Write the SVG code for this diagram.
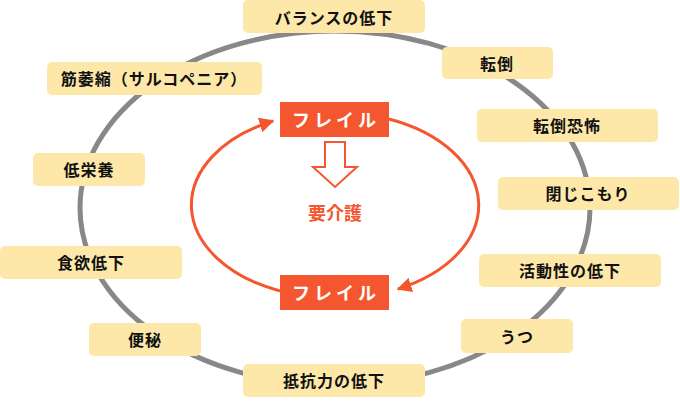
<svg xmlns="http://www.w3.org/2000/svg" width="680" height="402" viewBox="0 0 680 402">
<defs>
<style>
.box{fill:#FDE8AA;}
.lbl{font-family:"Noto Sans CJK JP","Noto Sans",sans-serif;font-weight:bold;font-size:16px;letter-spacing:1px;fill:#111;text-anchor:middle;dominant-baseline:central;}
.fr{fill:#F4572F;}
.frt{font-family:"Noto Sans CJK JP","Noto Sans",sans-serif;font-weight:bold;font-size:18px;letter-spacing:4px;fill:#fff;text-anchor:middle;dominant-baseline:central;}
.arc{fill:none;stroke:#F4572F;stroke-width:3;}
</style>
<marker id="ah" viewBox="0 0 10 10" refX="9" refY="5" markerWidth="5" markerHeight="5" markerUnits="strokeWidth" orient="auto">
<path d="M0,0 L10,5 L0,10 z" fill="#F4572F"/>
</marker>
</defs>
<rect width="680" height="402" fill="#fff"/>
<g id="connectors">
<ellipse cx="335" cy="208" rx="255" ry="177" fill="none" stroke="#888" stroke-width="5"/>
<path class="arc" d="M389,119 A143 93 0 0 1 398,289" marker-end="url(#ah)"/>
<path class="arc" d="M280,291 A143 93 0 0 1 273,121" marker-end="url(#ah)"/>
<path d="M325,142 H345 V167 H357 L335,187 L313,167 H325 Z" fill="#fff" stroke="#F4572F" stroke-width="2"/>
</g>
<g id="n-balance"><rect class="box" x="243" y="0" width="182" height="33" rx="5"/><text class="lbl" x="334" y="17">バランスの低下</text></g>
<g id="n-tentou"><rect class="box" x="442" y="47" width="111" height="32" rx="5"/><text class="lbl" x="497" y="63">転倒</text></g>
<g id="n-tentoukyoufu"><rect class="box" x="477" y="109" width="181" height="33" rx="5"/><text class="lbl" x="567" y="125">転倒恐怖</text></g>
<g id="n-tojikomori"><rect class="box" x="498" y="177" width="181" height="33" rx="5"/><text class="lbl" x="588" y="193">閉じこもり</text></g>
<g id="n-katsudou"><rect class="box" x="479" y="254" width="182" height="33" rx="5"/><text class="lbl" x="570" y="270">活動性の低下</text></g>
<g id="n-utsu"><rect class="box" x="461" y="319" width="112" height="34" rx="5"/><text class="lbl" x="517" y="336">うつ</text></g>
<g id="n-teikou"><rect class="box" x="243" y="364" width="182" height="33" rx="5"/><text class="lbl" x="334" y="380">抵抗力の低下</text></g>
<g id="n-benpi"><rect class="box" x="89" y="323" width="112" height="33" rx="5"/><text class="lbl" x="145" y="339">便秘</text></g>
<g id="n-shokuyoku"><rect class="box" x="0" y="246" width="182" height="33" rx="5"/><text class="lbl" x="91" y="262">食欲低下</text></g>
<g id="n-teieiyou"><rect class="box" x="33" y="153" width="112" height="33" rx="5"/><text class="lbl" x="89" y="169">低栄養</text></g>
<g id="n-kinishuku"><rect class="box" x="47" y="62" width="215" height="33" rx="5"/><text class="lbl" x="154" y="78">筋萎縮（サルコペニア）</text></g>
<g id="n-frail-top"><rect class="fr" x="280" y="102" width="109" height="35"/><text class="frt" x="336" y="119">フレイル</text></g>
<g id="n-frail-bottom"><rect class="fr" x="280" y="275" width="109" height="35"/><text class="frt" x="336" y="292">フレイル</text></g>
<g id="n-kaigo"><text x="335" y="212" font-family="'Noto Sans CJK JP','Noto Sans',sans-serif" font-weight="bold" font-size="18" fill="#F4572F" text-anchor="middle" dominant-baseline="central">要介護</text></g>
</svg>
